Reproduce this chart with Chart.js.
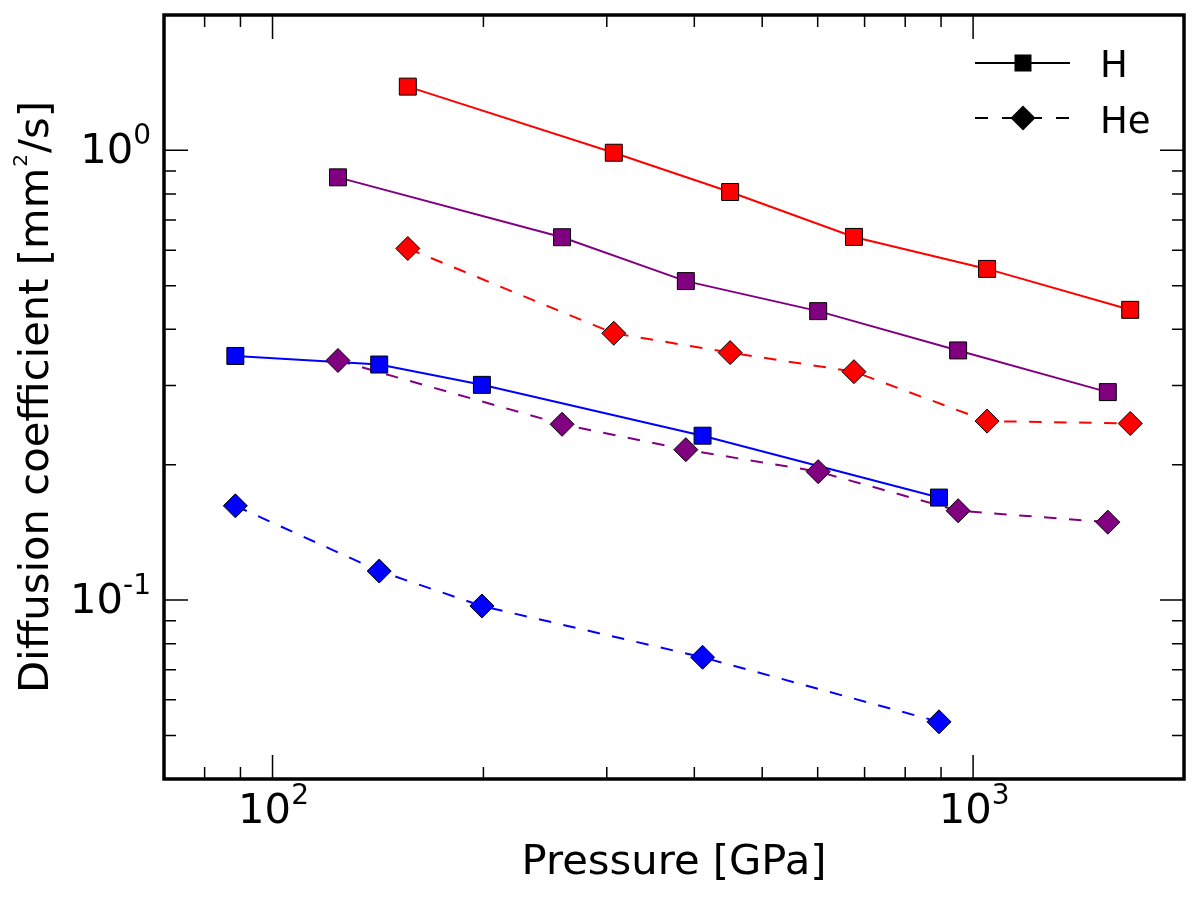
<!DOCTYPE html>
<html>
<head>
<meta charset="utf-8">
<script src="https://cdn.jsdelivr.net/npm/chart.js@4.4.1/dist/chart.umd.min.js"></script>
<style>
  html, body { margin: 0; padding: 0; background: #fff; }
  #wrap { width: 1200px; height: 898px; }
</style>
</head>
<body>
<div id="wrap"><canvas id="myChart" width="1200" height="898"></canvas></div>
<script>
// pressure [GPa] per colour series
const pressureRed = [156, 307, 450, 676, 1047, 1676];
const pressurePurple = [124, 259, 389, 601, 952, 1557];
const pressureBlue = [88.5, 142, 199, 411, 894];

// diffusion coefficient [mm^2/s]
const hRed = [1.386, 0.988, 0.808, 0.642, 0.545, 0.442];
const hPurple = [0.871, 0.641, 0.512, 0.439, 0.359, 0.290];
const hBlue = [0.349, 0.334, 0.301, 0.232, 0.169];
const heRed = [0.605, 0.392, 0.355, 0.322, 0.250, 0.247];
const hePurple = [0.341, 0.246, 0.216, 0.193, 0.158, 0.149];
const heBlue = [0.162, 0.116, 0.097, 0.0746, 0.0536];

// axis ticks (value, base, exponent)
const xMajor = [100, 1000];
const xTickLabels = [['10', '2'], ['10', '3']];
const yMajor = [0.1, 1];
const yTickLabels = [['10', '-1'], ['10', '0']];
const legendLabels = ['H', 'He'];

const BIG = '41.7px "DejaVu Sans"';
const SUP = '28px "DejaVu Sans"';

function series(px, vals, color, dashed) {
  const data = px.map((p, i) => ({ x: p, y: vals[i] }));
  return [
    { data, borderColor: color, borderWidth: 2, borderDash: dashed ? [12.5, 12.5] : [],
      pointRadius: 0, tension: 0, fill: false, order: 2 },
    { data, showLine: false, pointStyle: dashed ? 'rectRot' : 'rect', pointRadius: 12,
      borderColor: color, pointBackgroundColor: color, pointBorderColor: '#000',
      pointBorderWidth: 1, order: 1 }
  ];
}

function drawPow(ctx, base, exp, x, baseline, align) {
  ctx.font = BIG;
  const wb = ctx.measureText(base).width;
  ctx.font = SUP;
  const we = ctx.measureText(exp).width;
  let start = x;
  if (align === 'center') start = x - (wb + we) / 2 + 1;
  if (align === 'right') start = x - wb - we;
  ctx.textAlign = 'left';
  ctx.textBaseline = 'alphabetic';
  ctx.font = BIG;
  ctx.fillText(base, start, baseline);
  ctx.font = SUP;
  ctx.fillText(exp, start + wb, baseline - 19);
}

function minorValues(min, max) {
  const out = [];
  for (let d = 0.01; d <= 1000; d *= 10) {
    for (let m = 2; m <= 9; m++) {
      const v = m * d;
      if (v > min * 1.0001 && v < max * 0.9999) out.push(v);
    }
  }
  return out;
}

const frame = {
  id: 'frame',
  afterDraw(chart) {
    const { ctx, chartArea: a, scales: { x, y } } = chart;
    ctx.save();
    ctx.strokeStyle = '#000';
    ctx.fillStyle = '#000';
    ctx.setLineDash([]);

    // inward ticks on all four sides
    ctx.lineWidth = 1.5;
    const xt = (v, len) => {
      const p = x.getPixelForValue(v);
      ctx.beginPath();
      ctx.moveTo(p, a.bottom); ctx.lineTo(p, a.bottom - len);
      ctx.moveTo(p, a.top); ctx.lineTo(p, a.top + len);
      ctx.stroke();
    };
    const yt = (v, len) => {
      const p = y.getPixelForValue(v);
      ctx.beginPath();
      ctx.moveTo(a.left, p); ctx.lineTo(a.left + len, p);
      ctx.moveTo(a.right, p); ctx.lineTo(a.right - len, p);
      ctx.stroke();
    };
    xMajor.forEach(v => xt(v, 24));
    minorValues(x.min, x.max).forEach(v => xt(v, 12));
    yMajor.forEach(v => yt(v, 24));
    minorValues(y.min, y.max).forEach(v => yt(v, 12));

    // frame
    ctx.lineWidth = 3.5;
    ctx.strokeRect(a.left, a.top, a.right - a.left, a.bottom - a.top);

    // tick labels
    xMajor.forEach((v, i) => drawPow(ctx, xTickLabels[i][0], xTickLabels[i][1], x.getPixelForValue(v), 823, 'center'));
    yMajor.forEach((v, i) => drawPow(ctx, yTickLabels[i][0], yTickLabels[i][1], 151, y.getPixelForValue(v) + 12.5, 'right'));

    // axis titles
    ctx.font = BIG;
    ctx.textAlign = 'center';
    ctx.textBaseline = 'alphabetic';
    ctx.fillText('Pressure [GPa]', (a.left + a.right) / 2, 874);

    ctx.save();
    ctx.translate(48, (a.top + a.bottom) / 2);
    ctx.rotate(-Math.PI / 2);
    const p1 = 'Diffusion coefficient [mm', p2 = '2', p3 = '/s]';
    ctx.font = BIG;
    const w1 = ctx.measureText(p1).width, w3 = ctx.measureText(p3).width;
    ctx.font = '20px "DejaVu Sans"';
    const w2 = ctx.measureText(p2).width + 2;
    let sx = -(w1 + w2 + w3) / 2;
    ctx.textAlign = 'left';
    ctx.font = BIG;
    ctx.fillText(p1, sx, 0);
    ctx.font = '20px "DejaVu Sans"';
    ctx.fillText(p2, sx + w1 + 1, -21);
    ctx.font = BIG;
    ctx.fillText(p3, sx + w1 + w2, 0);
    ctx.restore();

    // legend
    ctx.lineWidth = 2;
    ctx.beginPath();
    ctx.moveTo(975, 63); ctx.lineTo(1070, 63);
    ctx.stroke();
    ctx.fillRect(1023 - 8.5, 63 - 8.5, 17, 17);
    ctx.setLineDash([13, 14]);
    ctx.beginPath();
    ctx.moveTo(975, 118); ctx.lineTo(1070, 118);
    ctx.stroke();
    ctx.setLineDash([]);
    ctx.beginPath();
    ctx.moveTo(1023 - 12.5, 118); ctx.lineTo(1023, 118 - 12.5);
    ctx.lineTo(1023 + 12.5, 118); ctx.lineTo(1023, 118 + 12.5);
    ctx.closePath();
    ctx.fill();
    ctx.font = '37px "DejaVu Sans"';
    ctx.textAlign = 'left';
    ctx.fillText(legendLabels[0], 1100, 77);
    ctx.fillText(legendLabels[1], 1100, 133);
    ctx.restore();
  }
};

const ctx = document.getElementById('myChart');
new Chart(ctx, {
  type: 'line',
  data: {
    datasets: [
      ...series(pressureRed, hRed, '#ff0000', false),
      ...series(pressurePurple, hPurple, '#800080', false),
      ...series(pressureBlue, hBlue, '#0000ff', false),
      ...series(pressureRed, heRed, '#ff0000', true),
      ...series(pressurePurple, hePurple, '#800080', true),
      ...series(pressureBlue, heBlue, '#0000ff', true)
    ]
  },
  options: {
    responsive: false,
    animation: false,
    events: [],
    layout: { padding: { left: 164, right: 16, top: 15, bottom: 119 } },
    plugins: { legend: { display: false }, tooltip: { enabled: false } },
    scales: {
      x: { type: 'logarithmic', min: 70, max: 2000, display: false },
      y: { type: 'logarithmic', min: 0.04, max: 2, display: false }
    }
  },
  plugins: [frame]
});
</script>
</body>
</html>
